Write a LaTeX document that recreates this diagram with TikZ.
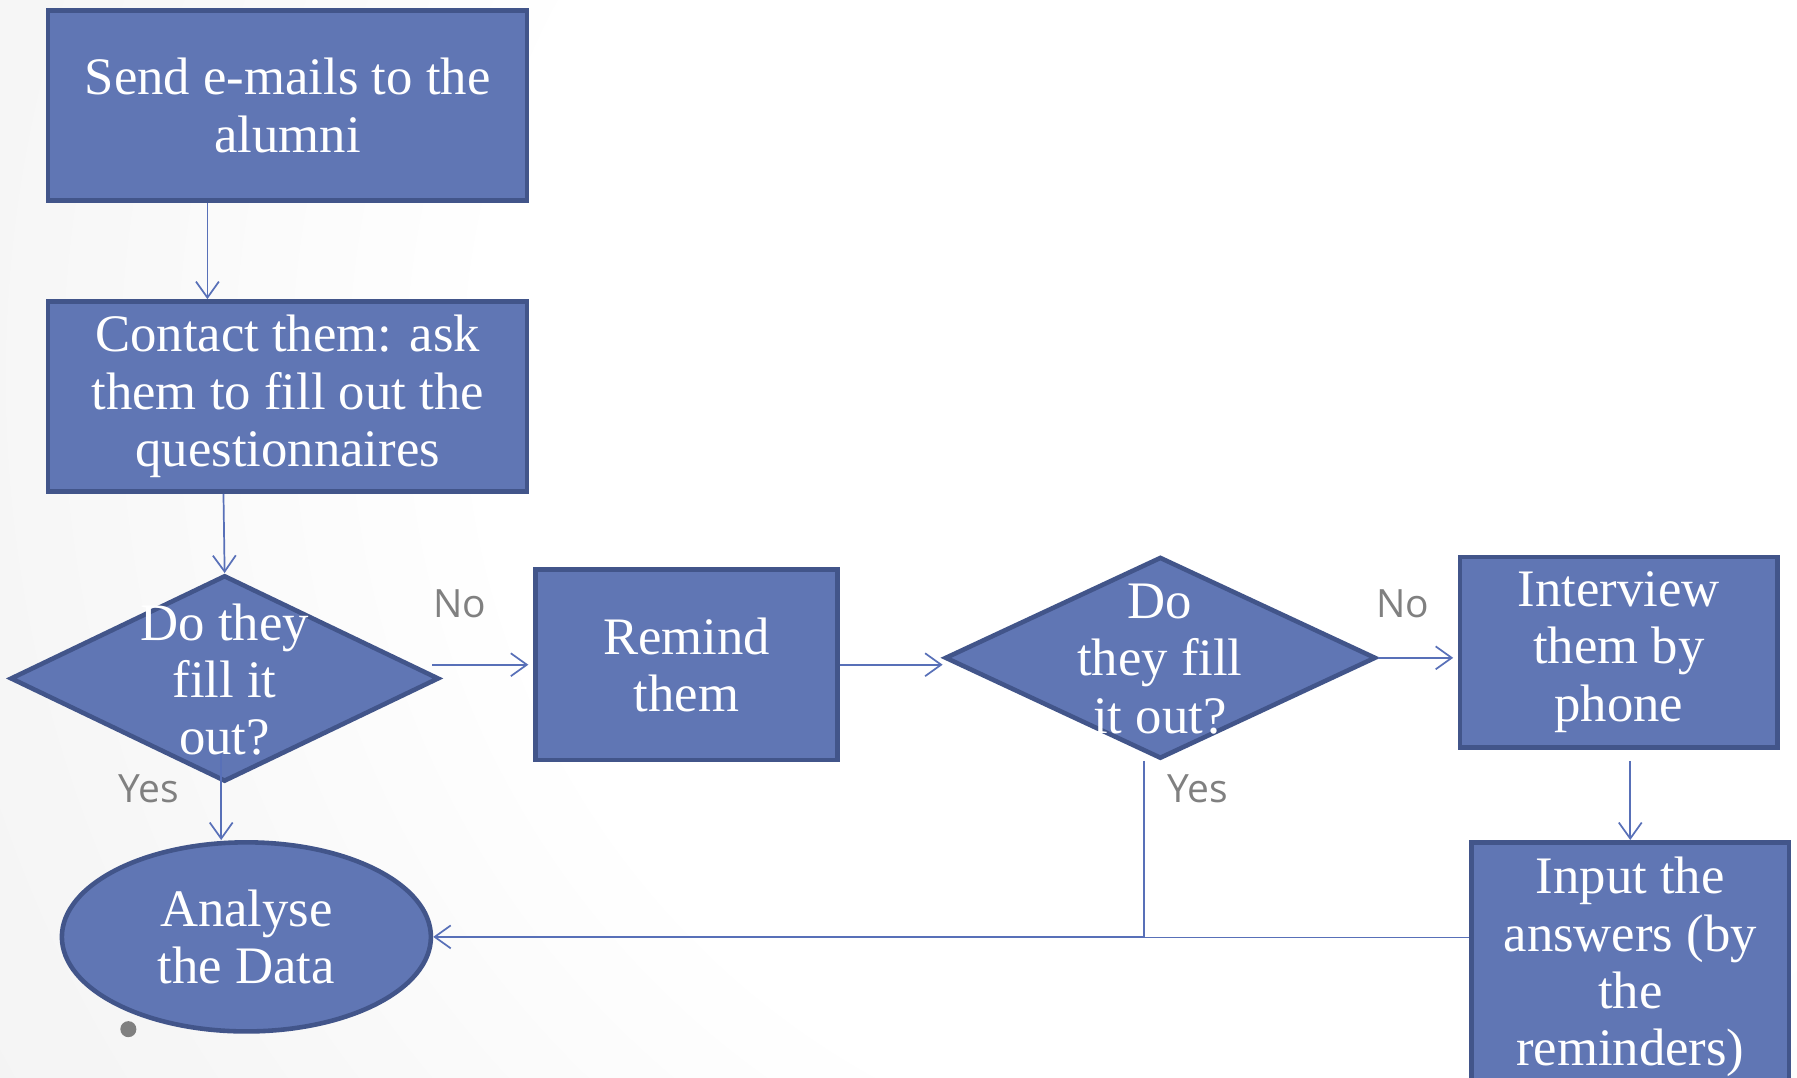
\documentclass[tikz,border=0pt]{standalone}
\usepackage{fontspec}
\setmainfont{Liberation Serif}
\newfontfamily\lblfont{Open Sans}
\usetikzlibrary{shapes.geometric,arrows.meta}
\definecolor{fillc}{RGB}{96,118,180}
\definecolor{bordc}{RGB}{66,85,138}
\definecolor{connc}{RGB}{88,112,184}
\definecolor{lblc}{RGB}{128,128,128}
\definecolor{bga}{RGB}{246,246,246}
\definecolor{bgb}{RGB}{238,238,238}
\definecolor{bgc}{RGB}{228,228,228}
\definecolor{bgd}{RGB}{214,214,214}
\definecolor{bge}{RGB}{204,204,204}
\pgfdeclareradialshading{bgshade}{\pgfpoint{0bp}{0bp}}{color(0bp)=(white); color(12bp)=(white); color(20bp)=(bga); color(32bp)=(bgb); color(40bp)=(bgc); color(45bp)=(bgd); color(50bp)=(bge)}
\tikzset{
  boxnode/.style={draw=bordc, fill=fillc, line width=2pt, text=white, align=center,
    inner sep=0pt, font=\fontsize{23}{25}\selectfont},
  dianode/.style={diamond, draw=bordc, fill=fillc, line width=2pt, inner sep=0pt},
  ellnode/.style={ellipse, draw=bordc, fill=fillc, line width=2pt, text=white, align=center,
    inner sep=0pt, font=\fontsize{23}{25}\selectfont},
  txtnode/.style={text=white, align=center, inner sep=0pt, font=\fontsize{23}{25}\selectfont},
  lblnode/.style={text=lblc, inner sep=0pt, font=\lblfont\fontsize{17}{20}\selectfont},
  arr/.style={draw=connc, line width=0.75pt, -{Straight Barb[length=7pt,width=10pt]}},
  conn/.style={draw=connc, line width=0.75pt}
}
\begin{document}
\begin{tikzpicture}[x=0.5pt,y=-0.5pt]
\useasboundingbox (0,0) rectangle (1568,940);
\begin{scope}
\clip (0,0) rectangle (1568,940);
\shade[shading=bgshade] (1100,330) circle[radius=1400];
\end{scope}

\node[boxnode, minimum width=209pt, minimum height=83pt] (box1) at (251,92) {Send e-mails to the\\alumni};
\node[boxnode, minimum width=209pt, minimum height=83pt] (box2) at (251,346) {Contact them: ask\\them to fill out the\\questionnaires};
\node[dianode, minimum width=187pt, minimum height=90pt] (dia1) at (196,592) {};
\node[boxnode, minimum width=132pt, minimum height=83pt] (remind) at (599,580) {Remind\\them};
\node[dianode, minimum width=188pt, minimum height=88pt] (dia2) at (1012.5,574) {};
\node[boxnode, minimum width=138.5pt, minimum height=83pt] (interview) at (1412.5,569) {Interview\\them by\\phone};
\node[boxnode, minimum width=138.5pt, minimum height=109pt] (input) at (1422.5,844) {Input the\\answers (by\\the\\reminders)};
\node[ellnode, minimum width=161pt, minimum height=82.5pt] (ell) at (215,817.5) {Analyse\\the Data};

\coordinate (j) at (983,818);

\draw[arr] ([xshift=-35pt]box1.south) -- ([xshift=-35pt]box2.north);
\draw[arr] ([xshift=-28pt]box2.south) -- (dia1.north);
\draw[arr] ([shift={(-1.5pt,13pt)}]dia1.south) -- ([xshift=-1.5pt]dia1.south |- ell.north);
\draw[arr] ([xshift=-4pt]dia1.east |- remind.west) -- ([xshift=-2pt]remind.west);
\draw[arr] (remind.east) -- (remind.east -| dia2.west);
\draw[arr] (dia2.east) -- ([xshift=-2pt]dia2.east -| interview.west);
\draw[arr] ([yshift=-5pt]interview.south -| input.north) -- (input.north);
\draw[arr] ([xshift=-7pt]dia2.south) |- (ell.east);
\draw[conn] (input.west |- j) -- (j);

\node[txtnode] (dia1t) at (196,593) {Do they\\fill it\\out?};
\node[txtnode] (dia2t) at (1012,575) {Do\\they fill\\it out?};

\node[lblnode] (no1) at (401,527) {No};
\node[lblnode] (no2) at (1224,527) {No};
\node[lblnode] (yes1) at (130,688) {Yes};
\node[lblnode] (yes2) at (1045,688) {Yes};

\fill[lblc] (112,898) circle[radius=7] coordinate (dot);
\end{tikzpicture}
\end{document}
